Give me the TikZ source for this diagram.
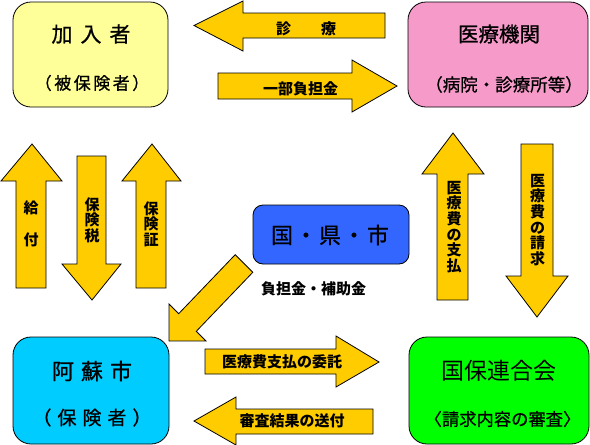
\documentclass[tikz,border=0pt]{standalone}
\usepackage{fontspec}
\newfontfamily\jp{Noto Sans CJK JP}
\newfontfamily\jpm[FakeBold=0.8]{Noto Sans CJK JP}
\definecolor{boxyellow}{HTML}{FFFF99}
\definecolor{boxpink}{HTML}{F59AC9}
\definecolor{boxblue}{HTML}{3366FF}
\definecolor{boxcyan}{HTML}{00CCFF}
\definecolor{boxgreen}{HTML}{00FF00}
\definecolor{arrowyellow}{HTML}{FFCC00}
\tikzset{
  box/.style={draw=black, line width=0.8pt, rounded corners=18pt, inner sep=0pt},
  blockarrow/.style={draw=black, line width=0.8pt, fill=arrowyellow, line join=miter},
  lbl/.style={inner sep=0pt, font=\jp\bfseries\fontsize{15}{15}\selectfont},
  boxtxt/.style={inner sep=0pt},
  vlbl/.style={inner sep=0pt, align=center, font=\jp\bfseries\fontsize{15}{15.6}\selectfont},
}
\begin{document}
\begin{tikzpicture}[x=1pt,y=-1pt]
\useasboundingbox (0,0) rectangle (590,445);

% ---------- boxes ----------
\node[box, fill=boxyellow, minimum width=155pt, minimum height=105pt] (kanyu) at (90.5,54.5) {};
\node[box, fill=boxpink, minimum width=180pt, minimum height=105pt] (iryo) at (498,54.5) {};
\node[box, fill=boxblue, rounded corners=10pt, minimum width=156pt, minimum height=59pt] (kuni) at (331,234.5) {};
\node[box, fill=boxcyan, minimum width=156pt, minimum height=107pt] (aso) at (91,390.5) {};
\node[box, fill=boxgreen, minimum width=180pt, minimum height=107pt] (kokuho) at (499,390.5) {};

% ---------- box texts ----------
\node[boxtxt, font=\jpm\fontsize{21}{21}\selectfont] (t1) at (91,34) {加\hspace{8pt}入\hspace{8pt}者};
\node[boxtxt, font=\jpm\fontsize{17}{17}\selectfont] (t2) at (92,83) {（\hspace{2.5pt}被\hspace{2.5pt}保\hspace{2.5pt}険\hspace{2.5pt}者\hspace{2.5pt}）};
\node[boxtxt, font=\jpm\fontsize{20.5}{20.5}\selectfont] (t3) at (499,34) {医療機関};
\node[boxtxt, font=\jpm\fontsize{17.5}{17.5}\selectfont] (t4) at (504,84.5) {（病院・診療所等）};
\node[boxtxt, font=\jpm\fontsize{22}{22}\selectfont] (t5) at (330,235) {国\hspace{2pt}・\hspace{2pt}県\hspace{2pt}・\hspace{2pt}市};
\node[boxtxt, font=\jpm\fontsize{22}{22}\selectfont] (t6) at (92,371) {阿\hspace{7pt}蘇\hspace{7pt}市};
\node[boxtxt, font=\jpm\fontsize{19}{19}\selectfont] (t7) at (92,417.5) {（\hspace{6pt}保\hspace{6pt}険\hspace{6pt}者\hspace{6pt}）};
\node[boxtxt, font=\jp\fontsize{23}{23}\selectfont] (t8) at (499,371) {国保連合会};
\node[boxtxt, font=\jpm\fontsize{17.3}{17.3}\selectfont] (t9) at (502.5,419) {〈請求内容の審査〉};

% ---------- horizontal arrows ----------
% 診療 (left)
\draw[blockarrow] (385,13) -- (243,13) -- (243,1) -- (194,25.5) -- (243,51) -- (243,38) -- (385,38) -- cycle;
% 一部負担金 (right)
\draw[blockarrow] (218,73) -- (352,73) -- (352,60) -- (397,86) -- (352,112) -- (352,99) -- (218,99) -- cycle;
% 医療費支払の委託 (right)
\draw[blockarrow] (205,349) -- (336,349) -- (336,336) -- (379,362) -- (336,387) -- (336,374) -- (205,374) -- cycle;
% 審査結果の送付 (left)
\draw[blockarrow] (373,409) -- (236,409) -- (236,397) -- (194,421) -- (236,445) -- (236,434) -- (373,434) -- cycle;

% ---------- vertical arrows ----------
% 給付 (up)
\draw[blockarrow] (16,288) -- (16,181) -- (1,181) -- (32,144) -- (62,181) -- (46,181) -- (46,288) -- cycle;
% 保険税 (down)
\draw[blockarrow] (77,156) -- (77,264) -- (62,264) -- (92,300) -- (121,264) -- (106,264) -- (106,156) -- cycle;
% 保険証 (up)
\draw[blockarrow] (136,288) -- (136,181) -- (122,181) -- (152,144) -- (181,181) -- (166,181) -- (166,288) -- cycle;
% 医療費の支払 (up)
\draw[blockarrow] (437,300) -- (437,174) -- (422,174) -- (453,133) -- (484,174) -- (468,174) -- (468,300) -- cycle;
% 医療費の請求 (down)
\draw[blockarrow] (521,144) -- (521,276) -- (506,276) -- (537,317) -- (568,276) -- (553,276) -- (553,144) -- cycle;

% ---------- diagonal arrow ----------
\draw[blockarrow] (252.8,272.3) -- (235.2,254.7) -- (178.7,313.7) -- (169.1,304.1) -- (169,341) -- (205.9,340.9) -- (196.3,331.3) -- cycle;

% ---------- arrow labels ----------
\node[lbl] (l1) at (306,28.5) {診\hspace{30pt}療};
\node[lbl] (l2) at (300.5,89) {一部負担金};
\node[lbl] (l3) at (282,362) {医療費支払の委託};
\node[lbl] (l4) at (292,421) {審査結果の送付};
\node[lbl] (l5) at (313.5,289) {負担金・補助金};
\node[vlbl, font=\jp\bfseries\fontsize{15}{32}\selectfont] (l6) at (31,224) {給\\付};
\node[vlbl] (l7) at (92,220) {保\\険\\税};
\node[vlbl] (l8) at (151,224) {保\\険\\証};
\node[vlbl] (l9) at (454,227) {医\\療\\費\\の\\支\\払};
\node[vlbl] (l10) at (537.5,220) {医\\療\\費\\の\\請\\求};
\end{tikzpicture}
\end{document}
